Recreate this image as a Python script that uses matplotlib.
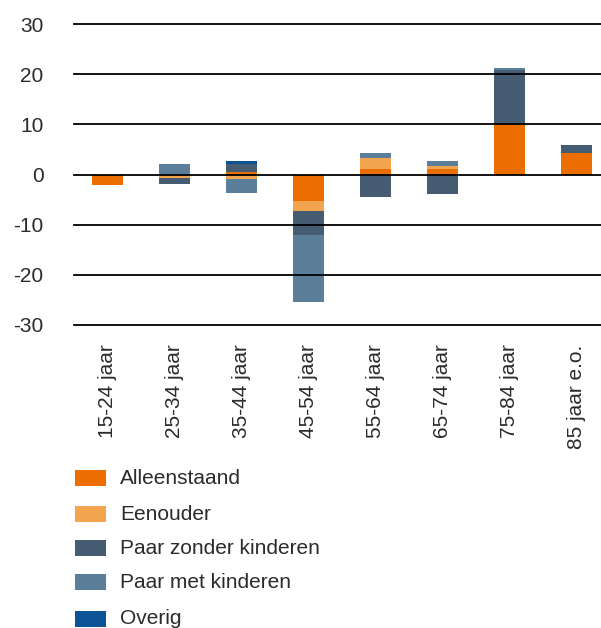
import matplotlib
matplotlib.use("Agg")
import matplotlib.pyplot as plt
import numpy as np
from matplotlib.patches import Rectangle

categories = ["15-24 jaar", "25-34 jaar", "35-44 jaar", "45-54 jaar",
              "55-64 jaar", "65-74 jaar", "75-84 jaar", "85 jaar e.o."]
series_names = ["Alleenstaand", "Eenouder", "Paar zonder kinderen", "Paar met kinderen", "Overig"]
alleenstaand = [-2.0, 0.0, 0.4, -5.2, 1.1, 1.1, 10.1, 4.3]
eenouder = [0.0, -0.6, -0.8, -2.0, 2.2, 0.6, 0.0, 0.0]
paar_zonder = [0.0, -1.3, 1.7, -4.8, -4.5, -3.9, 10.8, 1.6]
paar_met = [0.0, 2.0, -2.8, -13.4, 1.0, 1.0, 0.4, 0.0]
overig = [0.0, 0.0, 0.5, 0.0, 0.0, 0.0, 0.0, 0.0]
yticks = [-30, -20, -10, 0, 10, 20, 30]

colors = ["#EC6D00", "#F2A54E", "#465C72", "#5B7F9B", "#0B5394"]
series = [alleenstaand, eenouder, paar_zonder, paar_met, overig]

plt.rcParams['font.family'] = ['Liberation Sans', 'DejaVu Sans']
FS = 15
TXT = "#2b2b2b"
W, H = 601, 628
fig = plt.figure(figsize=(W / 100, H / 100), dpi=100)

# axes in pixel coords: x 74..610, y 24..325 (top..bottom)
x0, x1 = 74, 610
ytop, ybot = 24, 325
ax = fig.add_axes([x0 / W, 1 - ybot / H, (x1 - x0) / W, (ybot - ytop) / H])
ax.set_ylim(-30, 30)
ax.set_xlim(-0.5, len(categories) - 0.5)

x = np.arange(len(categories))
pos = np.zeros(len(categories))
neg = np.zeros(len(categories))
for vals, col in zip(series, colors):
    v = np.array(vals)
    bottoms = np.where(v >= 0, pos, neg)
    ax.bar(x, v, bottom=bottoms, width=0.46, color=col, zorder=2, linewidth=0)
    pos = pos + np.where(v > 0, v, 0)
    neg = neg + np.where(v < 0, v, 0)

for t in yticks:
    ax.axhline(t, color="black", linewidth=1.3, zorder=3, clip_on=False)

for s in ax.spines.values():
    s.set_visible(False)
ax.set_yticks(yticks)
ax.set_yticklabels([str(t) for t in yticks], fontsize=FS, color=TXT)
ax.tick_params(axis='y', length=0, pad=22)
ax.set_xticks(x)
ax.set_xticklabels(categories, rotation=90, fontsize=FS, color=TXT, va="top", ha="center")
ax.tick_params(axis='x', length=0, pad=14)

# legend
leg_y = [470, 506, 540, 574, 611]
for name, col, yy in zip(series_names, colors, leg_y):
    fig.add_artist(Rectangle((75 / W, 1 - (yy + 16) / H), 31 / W, 16 / H,
                             transform=fig.transFigure, color=col, linewidth=0))
    fig.text(120 / W, 1 - (yy + 8) / H, name, fontsize=FS, color=TXT,
             va="center", ha="left")

fig.savefig("out.png", dpi=100)
